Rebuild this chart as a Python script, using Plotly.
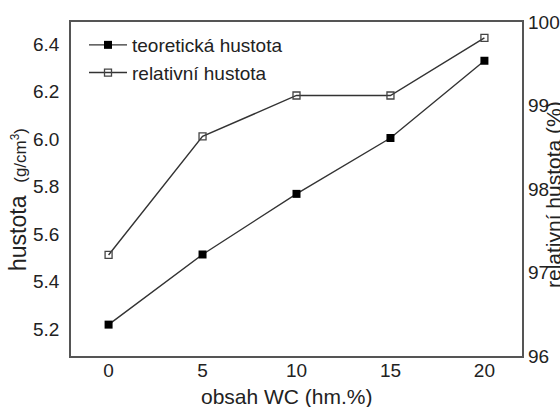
import plotly.graph_objects as go

wc = [0, 5, 10, 15, 20]
teoreticka = [5.22, 5.515, 5.77, 6.005, 6.33]
relativni = [97.21, 98.63, 99.12, 99.12, 99.81]

left_ticks = [5.2, 5.4, 5.6, 5.8, 6.0, 6.2, 6.4]
right_ticks = [96, 97, 98, 99, 100]
x_ticks = [0, 5, 10, 15, 20]

FONT = "Liberation Sans, Arial, sans-serif"
TXT = "#222"
LINE = "#333"
FRAME = "#555"

fig = go.Figure()
fig.add_trace(go.Scatter(
    x=wc, y=teoreticka, name="teoretická hustota", mode="lines+markers",
    line=dict(color=LINE, width=1.4),
    marker=dict(symbol="square", size=8, color="#000"),
    yaxis="y"))
fig.add_trace(go.Scatter(
    x=wc, y=relativni, name="relativní hustota", mode="lines+markers",
    line=dict(color=LINE, width=1.4),
    marker=dict(symbol="square-open", size=7, color="#444", line=dict(width=1.3)),
    yaxis="y2"))

W, H = 560, 407
ml, mr, mt, mb = 71, 38, 22, 51
pw, ph = W - ml - mr, H - mt - mb

def px(xp):
    return (xp - ml) / pw

def py(yp):
    return 1 - (yp - mt) / ph

fig.update_layout(
    width=W, height=H,
    margin=dict(l=ml, r=mr, t=mt, b=mb, pad=0, autoexpand=False),
    paper_bgcolor="white", plot_bgcolor="white",
    font=dict(family=FONT, color=TXT, size=19),
    showlegend=True,
    legend=dict(x=px(84), y=py(26), xanchor="left", yanchor="top",
                bgcolor="rgba(0,0,0,0)", font=dict(size=19, color=TXT),
                tracegroupgap=0, itemwidth=38),
    xaxis=dict(range=[-2, 22], tickvals=x_ticks, ticktext=[str(v) for v in x_ticks],
               showgrid=False, zeroline=False, showline=True, linecolor=FRAME,
               linewidth=1.5, mirror=True, ticks="", ticklabelstandoff=-4,
               automargin=False, tickfont=dict(size=19, color=TXT)),
    yaxis=dict(range=[5.088, 6.493], tickvals=left_ticks,
               ticktext=[f"{v:.1f}" for v in left_ticks],
               showgrid=False, zeroline=False, showline=True, linecolor=FRAME,
               linewidth=1.5, mirror=True, ticks="", ticklabelstandoff=6,
               automargin=False, tickfont=dict(size=19, color=TXT)),
    yaxis2=dict(range=[96, 100], tickvals=right_ticks,
                ticktext=[str(v) for v in right_ticks],
                overlaying="y", side="right", showgrid=False, zeroline=False,
                showline=False, ticks="", ticklabelstandoff=5,
                automargin=False, tickfont=dict(size=19, color=TXT)),
    annotations=[
        dict(text="obsah WC (hm.%)", xref="paper", yref="paper",
             x=px(287), y=py(396), xanchor="center", yanchor="middle",
             showarrow=False, font=dict(size=21, color=TXT)),
        dict(text="hustota  <span style='font-size:17px'>(g/cm<sup>3</sup>)</span>",
             xref="paper", yref="paper", x=px(18), y=py(200),
             xanchor="center", yanchor="middle", textangle=-90,
             showarrow=False, font=dict(size=23, color=TXT)),
        dict(text="relativní hustota (%)", xref="paper", yref="paper",
             x=px(553), y=py(195), xanchor="center", yanchor="middle",
             textangle=-90, showarrow=False, font=dict(size=21, color=TXT)),
    ],
)

fig.write_html("out.html")
